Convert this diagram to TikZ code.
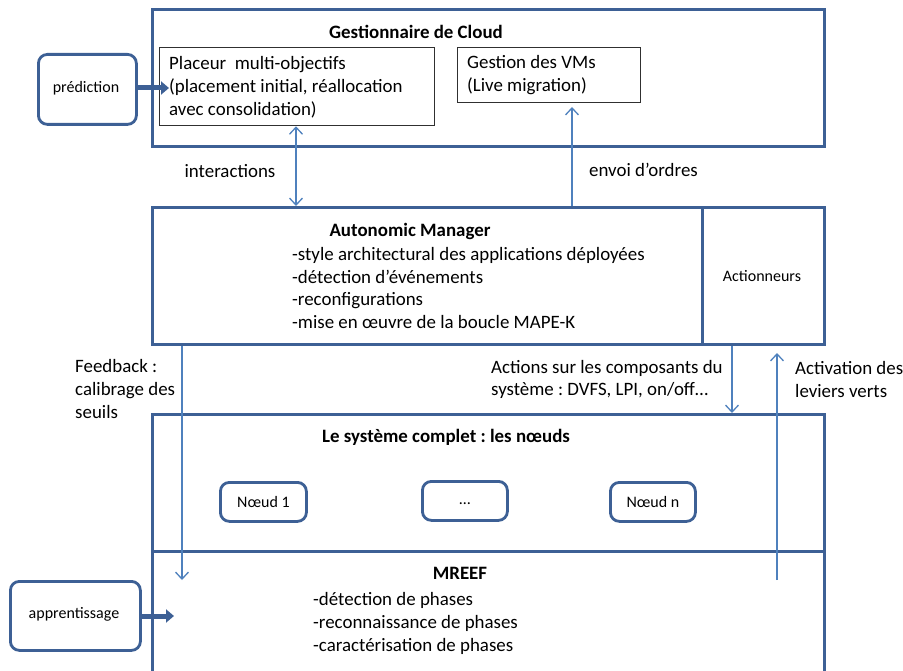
\documentclass[tikz,border=0pt]{standalone}
\usepackage{fontspec}
\setmainfont{Carlito}
\usetikzlibrary{arrows.meta}
\definecolor{boxblue}{HTML}{3D6095}
\definecolor{arrblue}{HTML}{4F81BD}
\definecolor{innerk}{HTML}{303030}
\frenchspacing
\begin{document}
\begin{tikzpicture}[x=1pt,y=-1pt,
  bigbox/.style={draw=boxblue,line width=2.8pt,inner sep=0pt,anchor=north west},
  innerbox/.style={draw=innerk,line width=1.3pt,inner sep=0pt,anchor=north west},
  rbox/.style={draw=boxblue,line width=2.8pt,rounded corners=9pt,inner sep=0pt,anchor=north west},
  txt/.style={font=\fontsize{18.9}{22.8}\selectfont,inner sep=0pt},
  ltxt/.style={txt,anchor=west,align=left},
  btxt/.style={txt,font=\fontsize{18.9}{22.8}\selectfont\bfseries},
  stxt/.style={font=\fontsize{16}{19}\selectfont,inner sep=0pt},
  thin/.style={draw=arrblue,line width=1.3pt},
  thinarr/.style={thin,-{Straight Barb[length=7pt,width=13pt,line width=1.3pt]}},
  thickarr/.style={draw=boxblue,line width=5pt,-{Triangle[length=8pt,width=13pt]}}
]
\useasboundingbox (0,0) rectangle (903,671);
\clip (0,0) rectangle (903,671);

% main boxes
\node[bigbox,minimum width=672pt,minimum height=137pt] (gc) at (151,8) {};
\node[bigbox,minimum width=550pt,minimum height=137pt] (am) at (151,206) {};
\node[bigbox,minimum width=122pt,minimum height=137pt] (act) at (701,206) {};
\node[bigbox,minimum width=672pt,minimum height=137pt] (sys) at (151,413) {};
\node[bigbox,minimum width=672pt,minimum height=140pt] (mreef) at (151,550) {};

% cloud manager
\node[btxt] (gctitle) at (416,32) {Gestionnaire de Cloud};
\node[innerbox,minimum width=275pt,minimum height=78pt] (pl) at (159,47) {};
\node[ltxt] (pltxt) at (169,87) {Placeur\ \ multi-objectifs\\(placement initial, réallocation\\avec consolidation)};
\node[innerbox,minimum width=183pt,minimum height=55pt] (vm) at (457,47) {};
\node[ltxt] (vmtxt) at (467,75) {Gestion des VMs\\(Live migration)};

% prediction
\node[rbox,minimum width=98pt,minimum height=70pt] (pred) at (37,53) {};
\node[stxt] (predtxt) at (86,88) {prédiction};
\coordinate (predend) at (169,88);
\draw[thickarr] (pred.east |- predend) -- (predend);

% interactions
\coordinate (ia) at (296,0);
\draw[thin,{Straight Barb[length=7pt,width=13pt,line width=1.3pt]}-{Straight Barb[length=7pt,width=13pt,line width=1.3pt]}] (ia |- pl.south) -- (ia |- am.north);
\node[txt] (interlbl) at (230,171) {interactions};

% envoi d'ordres
\coordinate (eo) at (572,107);
\draw[thinarr] (eo |- am.north) -- (eo);
\node[txt,anchor=west] (eolbl) at (589,170) {envoi d’ordres};

% autonomic manager
\node[btxt] (amtitle) at (410,231) {Autonomic Manager};
\node[ltxt] (amtxt) at (292,288) {-style architectural des applications déployées\\-détection d’événements\\-reconfigurations\\-mise en œuvre de la boucle MAPE-K};
\node[stxt] (acttxt) at (762,276) {Actionneurs};

% actions
\coordinate (ac) at (732,0);
\draw[thinarr] (ac |- act.south) -- (ac |- sys.north);
\node[ltxt] (aclbl) at (491,379.5) {Actions sur les composants du\\système : DVFS, LPI, on/off…};

% activation
\coordinate (avbot) at (777,580);
\coordinate (avtop) at (777,353);
\draw[thinarr] (avbot) -- (avtop);
\node[ltxt] (avlbl) at (795,379.5) {Activation des\\leviers verts};

% feedback
\coordinate (fbtop) at (182,0);
\coordinate (fbend) at (182,580);
\draw[thinarr] (fbtop |- am.south) -- (fbend);
\node[ltxt] (fblbl) at (75,389) {Feedback :\\calibrage des\\seuils};

% system
\node[btxt] (systitle) at (446,437) {Le système complet : les nœuds};
\node[rbox,minimum width=86pt,minimum height=39pt] (n1) at (219,481) {};
\node[stxt] (n1txt) at (n1.center) {Nœud 1};
\node[rbox,minimum width=85pt,minimum height=39pt] (nd) at (421,480) {};
\node[stxt,anchor=base] (ndtxt) at ([yshift=-4pt]nd.center) {…};
\node[rbox,minimum width=85pt,minimum height=39pt] (nn) at (609,481) {};
\node[stxt] (nntxt) at (nn.center) {Nœud n};

% MREEF
\node[btxt] (mrtitle) at (460,573) {MREEF};
\node[ltxt] (mrtxt) at (313,623.5) {-détection de phases\\-reconnaissance de phases\\-caractérisation de phases};

% apprentissage
\node[rbox,minimum width=130pt,minimum height=69pt] (app) at (9,580) {};
\node[stxt] (apptxt) at (74,614) {apprentissage};
\coordinate (append) at (174,616);
\draw[thickarr] (app.east |- append) -- (append);
\end{tikzpicture}
\end{document}
